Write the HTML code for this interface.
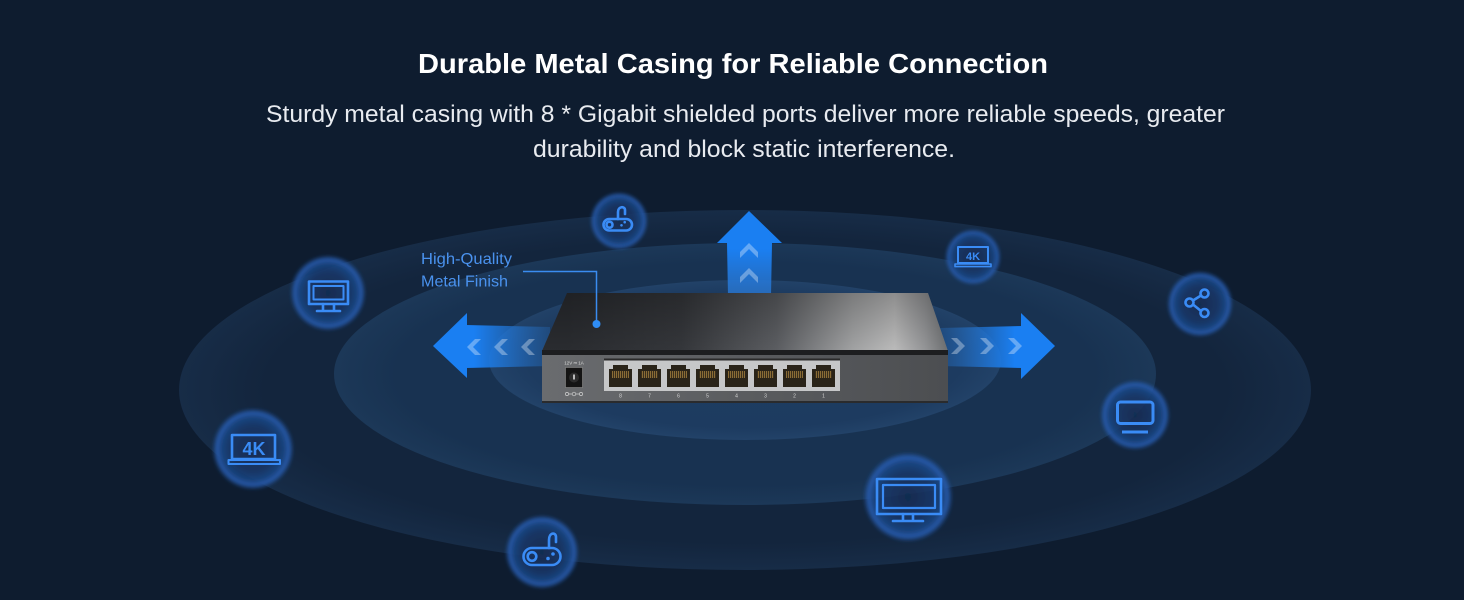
<!DOCTYPE html>
<html><head><meta charset="utf-8"><style>
html,body{margin:0;padding:0;background:#0e1c2f;width:1464px;height:600px;overflow:hidden}
svg{display:block}
</style></head><body>
<svg width="1464" height="600" viewBox="0 0 1464 600" xmlns="http://www.w3.org/2000/svg">
<defs>
  <radialGradient id="gOuter" cx="50%" cy="50%" r="50%">
    <stop offset="0" stop-color="#13253d"/>
    <stop offset="0.85" stop-color="#13253d"/>
    <stop offset="1" stop-color="#172c47"/>
  </radialGradient>
  <radialGradient id="gMid" cx="50%" cy="50%" r="50%">
    <stop offset="0" stop-color="#183251"/>
    <stop offset="0.85" stop-color="#183251"/>
    <stop offset="1" stop-color="#1c3858"/>
  </radialGradient>
  <radialGradient id="gIn" cx="50%" cy="50%" r="50%">
    <stop offset="0" stop-color="#1e3d62"/>
    <stop offset="0.85" stop-color="#1d3b60"/>
    <stop offset="1" stop-color="#224268"/>
  </radialGradient>
  <radialGradient id="gGlow" cx="50%" cy="50%" r="50%">
    <stop offset="0" stop-color="#132c52" stop-opacity="0.85"/>
    <stop offset="0.55" stop-color="#16386a" stop-opacity="0.85"/>
    <stop offset="0.78" stop-color="#1c4888" stop-opacity="0.9"/>
    <stop offset="0.88" stop-color="#285fb5" stop-opacity="0.9"/>
    <stop offset="0.94" stop-color="#2458a8" stop-opacity="0.5"/>
    <stop offset="1" stop-color="#1e4c90" stop-opacity="0"/>
  </radialGradient>
  <filter id="soft" x="-20%" y="-20%" width="140%" height="140%">
    <feGaussianBlur stdDeviation="1.6"/>
  </filter>
  <linearGradient id="gLeftShaft" x1="433" y1="0" x2="550" y2="0" gradientUnits="userSpaceOnUse">
    <stop offset="0" stop-color="#1a7ff2"/>
    <stop offset="0.35" stop-color="#1a7ff2"/>
    <stop offset="1" stop-color="#2a78d0" stop-opacity="0.25"/>
  </linearGradient>
  <linearGradient id="gRightShaft" x1="1055" y1="0" x2="940" y2="0" gradientUnits="userSpaceOnUse">
    <stop offset="0" stop-color="#1a7ff2"/>
    <stop offset="0.35" stop-color="#1a7ff2"/>
    <stop offset="1" stop-color="#2a78d0" stop-opacity="0.25"/>
  </linearGradient>
  <linearGradient id="gUpShaft" x1="0" y1="211" x2="0" y2="295" gradientUnits="userSpaceOnUse">
    <stop offset="0" stop-color="#1a7ff2"/>
    <stop offset="0.45" stop-color="#1a7ff2"/>
    <stop offset="1" stop-color="#2b7ad6" stop-opacity="0.75"/>
  </linearGradient>
  <linearGradient id="gTop" x1="567" y1="0" x2="948" y2="0" gradientUnits="userSpaceOnUse">
    <stop offset="0" stop-color="#2a2c30"/>
    <stop offset="0.3" stop-color="#35373b"/>
    <stop offset="0.55" stop-color="#5c5e62"/>
    <stop offset="0.75" stop-color="#a2a3a4"/>
    <stop offset="0.86" stop-color="#bcbcbc"/>
    <stop offset="0.94" stop-color="#959698"/>
    <stop offset="1" stop-color="#6e7072"/>
  </linearGradient>
  <linearGradient id="gTopShade" x1="0" y1="293" x2="0" y2="352" gradientUnits="userSpaceOnUse">
    <stop offset="0" stop-color="#000" stop-opacity="0.25"/>
    <stop offset="1" stop-color="#000" stop-opacity="0"/>
  </linearGradient>
  <linearGradient id="gFront" x1="542" y1="0" x2="948" y2="0" gradientUnits="userSpaceOnUse">
    <stop offset="0" stop-color="#6a6c6f"/>
    <stop offset="0.5" stop-color="#5a5c5f"/>
    <stop offset="1" stop-color="#4c4e51"/>
  </linearGradient>
  <pattern id="pins" x="0" y="0" width="2" height="8" patternUnits="userSpaceOnUse">
    <rect width="2" height="8" fill="#3a2f1c"/>
    <rect width="1" height="8" fill="#8a6c35"/>
  </pattern>
</defs>

<rect width="1464" height="600" fill="#0e1c2f"/>

<!-- ellipses -->
<ellipse cx="745" cy="390" rx="566" ry="180" fill="url(#gOuter)"/>
<ellipse cx="745" cy="374" rx="411" ry="131" fill="url(#gMid)"/>
<ellipse cx="745" cy="360" rx="256" ry="80" fill="url(#gIn)"/>

<!-- glow circles -->
<g filter="url(#soft)">
<circle cx="619" cy="221" r="29" fill="url(#gGlow)"/>
<circle cx="328" cy="293" r="38" fill="url(#gGlow)"/>
<circle cx="253" cy="449" r="41" fill="url(#gGlow)"/>
<circle cx="542" cy="552" r="37" fill="url(#gGlow)"/>
<circle cx="973" cy="257" r="28" fill="url(#gGlow)"/>
<circle cx="1200" cy="304" r="33" fill="url(#gGlow)"/>
<circle cx="1135" cy="415" r="35" fill="url(#gGlow)"/>
<circle cx="908" cy="497" r="45" fill="url(#gGlow)"/>
</g>

<!-- icons -->
<g fill="none" stroke="#3a8cf6" stroke-width="2.6" stroke-linecap="round" stroke-linejoin="round">
  <rect x="603.5" y="219" width="28.5" height="11.5" rx="5.75"/>
  <circle cx="609.5" cy="224.7" r="3"/>
  <path d="M618,219 L618,212 C618,206 625,206 625,210 L625,214"/>
  <rect x="523.5" y="548" width="37" height="17" rx="8.5"/>
  <circle cx="532" cy="556.5" r="4.3"/>
  <path d="M549,548 L549,540 C549,532 556,532 556,537 L556,542"/>
  <rect x="309" y="281.5" width="39" height="22.5"/>
  <rect x="313.5" y="286" width="30" height="13.5" stroke-width="2"/>
  <path d="M323,304 L323,311 M334,304 L334,311 M317,311 L340,311"/>
  <rect x="877" y="479" width="64" height="35"/>
  <rect x="883" y="485" width="52" height="23" stroke-width="2.2"/>
  <path d="M903,514 L903,521 M913,514 L913,521 M893,521 L923,521"/>
  <rect x="232" y="435" width="43" height="24"/>
  <rect x="228.5" y="460" width="51.5" height="4" stroke-width="2"/>
  <rect x="958" y="247" width="30" height="16" stroke-width="2"/>
  <rect x="955" y="264" width="36" height="2.6" stroke-width="1.6"/>
  <circle cx="1204.5" cy="293.5" r="4"/>
  <circle cx="1189.5" cy="302.5" r="4"/>
  <circle cx="1204.5" cy="313" r="4"/>
  <path d="M1193,300.5 L1201,295.5 M1193,304.5 L1201,311"/>
  <rect x="1117.5" y="402" width="35.5" height="21.5" rx="3" stroke-width="3"/>
  <path d="M1122,432 L1148,432" stroke-width="3" stroke-linecap="butt"/>
</g>
<g fill="#3a8cf6">
  <circle cx="621.5" cy="225.3" r="1.3"/>
  <circle cx="624.7" cy="222.2" r="1.3"/>
  <circle cx="548" cy="558.5" r="1.8"/>
  <circle cx="553" cy="554" r="1.8"/>
</g>
<text x="254" y="455" text-anchor="middle" font-family="Liberation Sans, sans-serif" font-weight="bold" font-size="18" fill="#3a8cf6">4K</text>
<text x="973" y="260" text-anchor="middle" font-family="Liberation Sans, sans-serif" font-weight="bold" font-size="11" fill="#3a8cf6">4K</text>

<!-- arrows -->
<path d="M466,325 L550,327 L550,366 L466,368 Z" fill="url(#gLeftShaft)"/>
<path d="M433,346 L467,313 L467,378 Z" fill="#1a7ff2"/>
<path d="M1023,326 L940,328 L940,366 L1023,368 Z" fill="url(#gRightShaft)"/>
<path d="M1055,346 L1021,313 L1021,379 Z" fill="#1a7ff2"/>
<path d="M749,211 L782,243 L772,243 L771,296 L728,296 L727,243 L717,243 Z" fill="url(#gUpShaft)"/>
<g fill="#ffffff" fill-opacity="0.33">
  <path d="M467,347 L475,339 L481,339 L473,347 L481,355 L475,355 Z"/>
  <path d="M494,347 L502,339 L508,339 L500,347 L508,355 L502,355 Z"/>
  <path d="M521,347 L529,339 L535,339 L527,347 L535,355 L529,355 Z"/>
  <path d="M965,346 L957,338 L951,338 L959,346 L951,354 L957,354 Z"/>
  <path d="M994,346 L986,338 L980,338 L988,346 L980,354 L986,354 Z"/>
  <path d="M1022,346 L1014,338 L1008,338 L1016,346 L1008,354 L1014,354 Z"/>
  <path d="M749,243 L758,252 L758,258 L749,249 L740,258 L740,252 Z"/>
  <path d="M749,268 L758,277 L758,283 L749,274 L740,283 L740,277 Z"/>
</g>

<!-- switch -->
<polygon points="567,293 928,293 948,351 542,351" fill="url(#gTop)"/>
<polygon points="567,293 928,293 948,351 542,351" fill="url(#gTopShade)"/>
<rect x="542" y="350" width="406" height="5" fill="#1d1e20"/>
<rect x="542" y="355" width="406" height="47" fill="url(#gFront)"/>
<rect x="542" y="401" width="406" height="2" fill="#2a2b2d"/>
<text x="574" y="364.5" text-anchor="middle" font-family="Liberation Sans, sans-serif" font-size="4.5" fill="#dcdcdc">12V ⎓ 1A</text>
<rect x="565.5" y="367.5" width="17" height="20" fill="#141414" stroke="#8a8a8a" stroke-width="0.6"/>
<circle cx="574" cy="377.5" r="5" fill="#2c2c2c"/>
<rect x="573.2" y="374.5" width="1.6" height="5" fill="#ddd"/>
<g fill="none" stroke="#d0d0d0" stroke-width="0.7">
  <circle cx="567" cy="394" r="1.6"/><circle cx="574" cy="394" r="1.8"/><circle cx="581" cy="394" r="1.6"/>
  <path d="M568.6,394 L572.2,394 M575.8,394 L579.4,394"/>
</g>
<rect x="604" y="358.5" width="236" height="2.2" fill="#2a2a2a"/>
<rect x="604" y="360.5" width="236" height="30.5" fill="#c6c7c8"/>
<g>
  <path d="M609,369 L613,369 L613,365 L628,365 L628,369 L632,369 L632,387 L609,387 Z" fill="#2a2419"/>
  <path d="M638,369 L642,369 L642,365 L657,365 L657,369 L661,369 L661,387 L638,387 Z" fill="#2a2419"/>
  <path d="M667,369 L671,369 L671,365 L686,365 L686,369 L690,369 L690,387 L667,387 Z" fill="#2a2419"/>
  <path d="M696,369 L700,369 L700,365 L715,365 L715,369 L719,369 L719,387 L696,387 Z" fill="#2a2419"/>
  <path d="M725,369 L729,369 L729,365 L744,365 L744,369 L748,369 L748,387 L725,387 Z" fill="#2a2419"/>
  <path d="M754,369 L758,369 L758,365 L773,365 L773,369 L777,369 L777,387 L754,387 Z" fill="#2a2419"/>
  <path d="M783,369 L787,369 L787,365 L802,365 L802,369 L806,369 L806,387 L783,387 Z" fill="#2a2419"/>
  <path d="M812,369 L816,369 L816,365 L831,365 L831,369 L835,369 L835,387 L812,387 Z" fill="#2a2419"/>
</g>
<g fill="url(#pins)">
  <rect x="612" y="371" width="17" height="7"/>
  <rect x="641" y="371" width="17" height="7"/>
  <rect x="670" y="371" width="17" height="7"/>
  <rect x="699" y="371" width="17" height="7"/>
  <rect x="728" y="371" width="17" height="7"/>
  <rect x="757" y="371" width="17" height="7"/>
  <rect x="786" y="371" width="17" height="7"/>
  <rect x="815" y="371" width="17" height="7"/>
</g>
<g font-family="Liberation Sans, sans-serif" font-size="5" fill="#d6d6d6" text-anchor="middle">
  <text x="620.5" y="397.5">8</text><text x="649.5" y="397.5">7</text><text x="678.5" y="397.5">6</text><text x="707.5" y="397.5">5</text>
  <text x="736.5" y="397.5">4</text><text x="765.5" y="397.5">3</text><text x="794.5" y="397.5">2</text><text x="823.5" y="397.5">1</text>
</g>

<!-- callout -->
<path d="M523,271.5 L596.5,271.5 L596.5,324" fill="none" stroke="#3a8cf0" stroke-width="1.5"/>
<circle cx="596.5" cy="324" r="4" fill="#2f8df5"/>
<text x="421" y="264" font-family="Liberation Sans, sans-serif" font-size="16" fill="#4a92ee" textLength="91" lengthAdjust="spacingAndGlyphs">High-Quality</text>
<text x="421" y="286.5" font-family="Liberation Sans, sans-serif" font-size="16" fill="#4a92ee" textLength="87" lengthAdjust="spacingAndGlyphs">Metal Finish</text>

<!-- headings -->
<text x="418" y="73" font-family="Liberation Sans, sans-serif" font-weight="bold" font-size="28" fill="#ffffff" textLength="630" lengthAdjust="spacingAndGlyphs">Durable Metal Casing for Reliable Connection</text>
<text x="266" y="122" font-family="Liberation Sans, sans-serif" font-size="24" fill="#e8ebf0" textLength="959" lengthAdjust="spacingAndGlyphs">Sturdy metal casing with 8 * Gigabit shielded ports deliver more reliable speeds, greater</text>
<text x="533" y="157" font-family="Liberation Sans, sans-serif" font-size="24" fill="#e8ebf0" textLength="422" lengthAdjust="spacingAndGlyphs">durability and block static interference.</text>
</svg>
</body></html>
